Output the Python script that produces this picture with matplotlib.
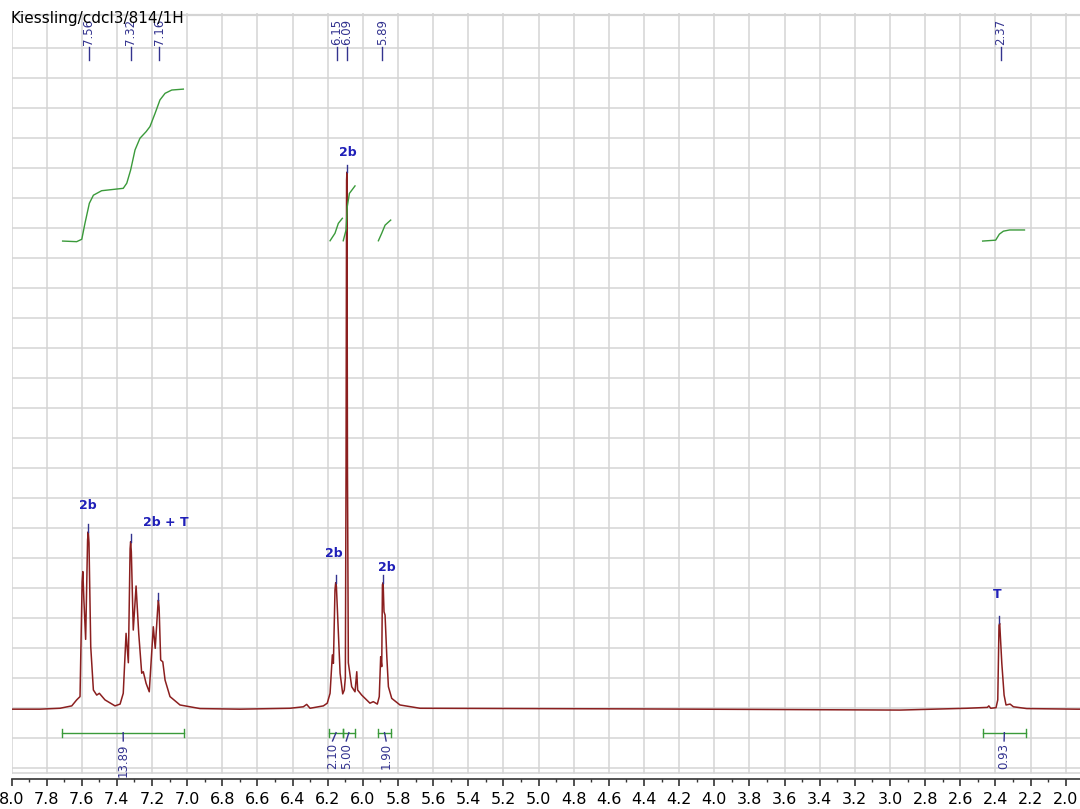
"""
1H NMR spectrum (Kiessling/cdcl3/814/1H) redrawn with matplotlib
"""
import matplotlib
matplotlib.use('Agg')
import matplotlib.pyplot as plt
from matplotlib.ticker import MultipleLocator, FormatStrFormatter

# spectrum trace (ppm, intensity in grid units)
spec_ppm = [8.00, 7.838, 7.724, 7.657, 7.629, 7.610, 7.598, 7.594, 7.588, 7.578, 7.567, 7.563,
            7.559, 7.549, 7.534, 7.515, 7.500, 7.468, 7.411, 7.382, 7.364, 7.348, 7.335, 7.325,
            7.322, 7.318, 7.307, 7.291, 7.276, 7.259, 7.250, 7.234, 7.216, 7.193, 7.182, 7.167,
            7.164, 7.160, 7.151, 7.139, 7.126, 7.098, 7.041, 6.927, 6.700, 6.415, 6.339, 6.320,
            6.301, 6.225, 6.203, 6.187, 6.174, 6.168, 6.159, 6.155, 6.151, 6.146, 6.130, 6.115,
            6.106, 6.100, 6.096, 6.093, 6.091, 6.088, 6.083, 6.064, 6.045, 6.035, 6.030, 6.007,
            5.960, 5.941, 5.918, 5.907, 5.899, 5.893, 5.889, 5.885, 5.880, 5.874, 5.864, 5.855,
            5.836, 5.789, 5.675, 4.500, 2.943, 2.563, 2.446, 2.438, 2.427, 2.397, 2.387, 2.380,
            2.376, 2.364, 2.351, 2.340, 2.317, 2.298, 2.222, 1.937, 1.919]
spec_int = [1.95, 1.95, 1.98, 2.06, 2.26, 2.37, 6.20, 6.54, 5.60, 4.28, 7.60, 7.87,
            7.50, 4.03, 2.59, 2.42, 2.48, 2.26, 2.06, 2.12, 2.48, 4.48, 3.50, 7.30,
            7.54, 7.20, 4.59, 6.06, 4.48, 3.15, 3.20, 2.81, 2.53, 4.70, 3.98, 5.40,
            5.59, 5.35, 3.59, 3.53, 2.92, 2.37, 2.09, 1.97, 1.95, 1.98, 2.03, 2.11,
            1.98, 2.06, 2.15, 2.48, 3.76, 3.48, 5.93, 6.17, 6.05, 5.37, 3.15, 2.46,
            2.59, 3.00, 10.0, 19.60, 19.87, 10.0, 3.50, 2.70, 2.53, 3.20, 2.59, 2.42,
            2.15, 2.20, 2.12, 2.37, 3.70, 3.37, 6.10, 6.17, 5.20, 5.09, 3.70, 2.70,
            2.31, 2.09, 1.98, 1.96, 1.92, 1.98, 2.01, 2.06, 1.98, 2.00, 2.26, 4.75,
            4.81, 3.48, 2.42, 2.09, 2.12, 2.03, 1.97, 1.95, 1.95]

# integral curves
int1_ppm = [7.709, 7.629, 7.600, 7.582, 7.557, 7.534, 7.487, 7.364, 7.344, 7.322, 7.297,
            7.269, 7.234, 7.212, 7.183, 7.155, 7.126, 7.088, 7.022]
int1_val = [17.57, 17.55, 17.63, 18.16, 18.83, 19.10, 19.25, 19.33, 19.50, 19.94, 20.61,
            21.00, 21.22, 21.39, 21.83, 22.28, 22.50, 22.61, 22.64]
int2_ppm = [6.187, 6.159, 6.140, 6.117]
int2_val = [17.58, 17.83, 18.16, 18.33]
int3_ppm = [6.112, 6.096, 6.089, 6.077, 6.045]
int3_val = [17.58, 17.94, 18.72, 19.16, 19.41]
int4_ppm = [5.912, 5.893, 5.874, 5.842]
int4_val = [17.58, 17.83, 18.10, 18.27]
int5_ppm = [2.473, 2.399, 2.378, 2.355, 2.320, 2.235]
int5_val = [17.57, 17.60, 17.80, 17.90, 17.94, 17.94]

# integration ranges (start, end, label position, value)
rng_start = [7.711, 6.191, 6.115, 5.912, 2.473]
rng_end = [7.018, 6.115, 6.045, 5.842, 2.226]
rng_label_ppm = [7.364, 6.173, 6.095, 5.868, 2.351]
rng_values = ['13.89', '2.10', '5.00', '1.90', '0.93']

# peak picking labels on top
pk_ppm = [7.56, 7.32, 7.16, 6.15, 6.09, 5.89, 2.37]
pk_text = ['7.56', '7.32', '7.16', '6.15', '6.09', '5.89', '2.37']

# assignment labels
asg_text = ['2b', '2b + T', '2b', '2b', '2b', 'T']
asg_ppm = [7.563, 7.124, 6.163, 6.087, 5.863, 2.390]
asg_y = [8.76, 8.19, 7.16, 20.52, 6.68, 5.79]
# peak tops that get a little marker
mark_ppm = [7.563, 7.322, 7.164, 6.153, 6.092, 5.887, 2.378]
mark_y = [7.87, 7.54, 5.59, 6.17, 19.87, 6.17, 4.81]

red = '#8b1f1f'
green = '#3a9a3a'
navy = '#33338f'
blue = '#1f1fb8'
grid_c = '#d4d4d4'

fig = plt.figure(figsize=(10.8, 8.09), dpi=100)
ax = fig.add_axes([11.5 / 1080, 30 / 809, 1068.5 / 1080, 765.7 / 809])
ax.set_xlim(8.0, 1.919)
ax.set_ylim(-0.38, 25.17)

# grid
for k in range(25):
    ax.axhline(k, color=grid_c, lw=1.1, zorder=0)
ax.axhline(-0.17, color=grid_c, lw=1.1, zorder=0)
ax.axhline(25.12, color=grid_c, lw=1.6, zorder=0)
for k in range(31):
    ax.axvline(8.0 - 0.2 * k, ymin=0.008, color=grid_c, lw=1.1, zorder=0)

# spectrum
ax.plot(spec_ppm, spec_int, color=red, lw=1.1, zorder=3)

# integral curves
for xs, ys in [(int1_ppm, int1_val), (int2_ppm, int2_val), (int3_ppm, int3_val),
               (int4_ppm, int4_val), (int5_ppm, int5_val)]:
    ax.plot(xs, ys, color=green, lw=1.0, zorder=3)

# integration bars
bar_y = 1.165
for s, e, lp, val in zip(rng_start, rng_end, rng_label_ppm, rng_values):
    ax.plot([s, e], [bar_y, bar_y], color=green, lw=1.0, zorder=3)
    ax.plot([s, s], [bar_y - 0.13, bar_y + 0.13], color=green, lw=1.0, zorder=3)
    ax.plot([e, e], [bar_y - 0.13, bar_y + 0.13], color=green, lw=1.0, zorder=3)
    ax.plot([(s + e) / 2, lp], [bar_y, 0.89], color=navy, lw=1.0, zorder=3)
    ax.text(lp, 0.82, val, rotation=90, ha='center', va='top', color=navy,
            fontsize=8.5, zorder=4)

# peak picking labels
for p, t in zip(pk_ppm, pk_text):
    ax.plot([p, p], [23.61, 24.04], color=navy, lw=1.0, zorder=3)
    ax.text(p, 24.11, t, rotation=90, ha='center', va='bottom', color=navy,
            fontsize=8.5, zorder=4)

# assignments
for p, y in zip(mark_ppm, mark_y):
    ax.plot([p, p], [y, y + 0.25], color=navy, lw=1.0, zorder=4)
for t, p, y in zip(asg_text, asg_ppm, asg_y):
    ax.text(p, y, t, ha='center', va='center', color=blue, fontsize=9,
            fontweight='bold', zorder=4)

fig.text(11 / 1080, 1 - 11 / 809, 'Kiessling/cdcl3/814/1H', ha='left', va='top',
         fontsize=11, color='black')

# axes styling
for s in ['top', 'right', 'left']:
    ax.spines[s].set_visible(False)
ax.spines['bottom'].set_color('#333333')
ax.spines['bottom'].set_linewidth(1.2)
ax.yaxis.set_visible(False)
ax.xaxis.set_major_locator(MultipleLocator(0.2))
ax.xaxis.set_minor_locator(MultipleLocator(0.1))
ax.xaxis.set_major_formatter(FormatStrFormatter('%.1f'))
ax.tick_params(axis='x', which='major', direction='out', length=5, width=1.2,
               color='#333333', labelsize=11.5, pad=4)
ax.tick_params(axis='x', which='minor', direction='out', length=2.5, width=1.0,
               color='#333333')

fig.savefig('out.png', dpi=100)
